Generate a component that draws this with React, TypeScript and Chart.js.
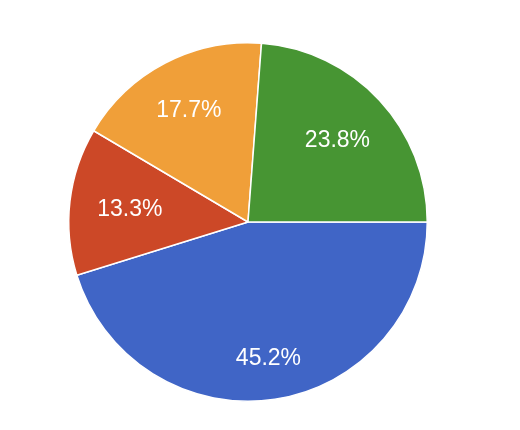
import React, { useEffect, useRef } from "react";
import { Chart, registerables } from "chart.js";

Chart.register(...registerables);

const categories = ["A", "B", "C", "D"];
const values = [45.2, 13.3, 17.7, 23.8];
const labelTexts = ["45.2%", "13.3%", "17.7%", "23.8%"];
const colors = ["#4065C6", "#CC4827", "#F09F39", "#479533"];

const FONT_SIZE = 23;
const FONT = `${FONT_SIZE}px "Liberation Sans", Arial, Helvetica, sans-serif`;

const sliceLabelPlugin = {
  id: "sliceLabels",
  afterDatasetsDraw(chart: any) {
    const ctx = chart.ctx;
    const meta = chart.getDatasetMeta(0);
    ctx.save();
    ctx.font = FONT;
    ctx.fillStyle = "#ffffff";
    ctx.textAlign = "center";
    ctx.textBaseline = "alphabetic";
    const capH = FONT_SIZE * 0.716;
    meta.data.forEach((arc: any, i: number) => {
      const { x, y, startAngle, endAngle, outerRadius } = arc.getProps(
        ["x", "y", "startAngle", "endAngle", "outerRadius"],
        true
      );
      const mid = (startAngle + endAngle) / 2;
      const c = Math.cos(mid);
      const s = Math.sin(mid);
      const text = labelTexts[i];
      const w = ctx.measureText(text).width;
      const a = Math.sign(c) * (w / 2);
      const b = Math.sign(s) * (capH / 2);
      const L = outerRadius * 0.85;
      const p = c * a + s * b;
      const d = -p + Math.sqrt(p * p - (a * a + b * b - L * L));
      const tx = x + c * d;
      const ty = y + s * d;
      ctx.fillText(text, tx, ty + capH / 2);
    });
    ctx.restore();
  },
};

export default function App() {
  const ref = useRef<HTMLCanvasElement | null>(null);
  useEffect(() => {
    document.body.style.margin = "0";
    document.body.style.background = "#ffffff";
    const chart = new Chart(ref.current as HTMLCanvasElement, {
      type: "pie",
      data: {
        labels: categories,
        datasets: [
          {
            data: values,
            backgroundColor: colors,
            borderColor: "#ffffff",
            borderWidth: 1.5,
          },
        ],
      },
      options: {
        responsive: false,
        animation: false,
        rotation: 90,
        layout: { padding: { left: 68, right: 92, top: 42, bottom: 28 } },
        plugins: {
          legend: { display: false },
          tooltip: { enabled: false },
          title: { display: false },
        },
      },
      plugins: [sliceLabelPlugin],
    });
    return () => chart.destroy();
  }, []);
  return (
    <div style={{ position: "absolute", left: 0, top: 0, width: 520, height: 430, background: "#fff" }}>
      <canvas ref={ref} width={520} height={430} style={{ width: 520, height: 430 }} />
    </div>
  );
}
